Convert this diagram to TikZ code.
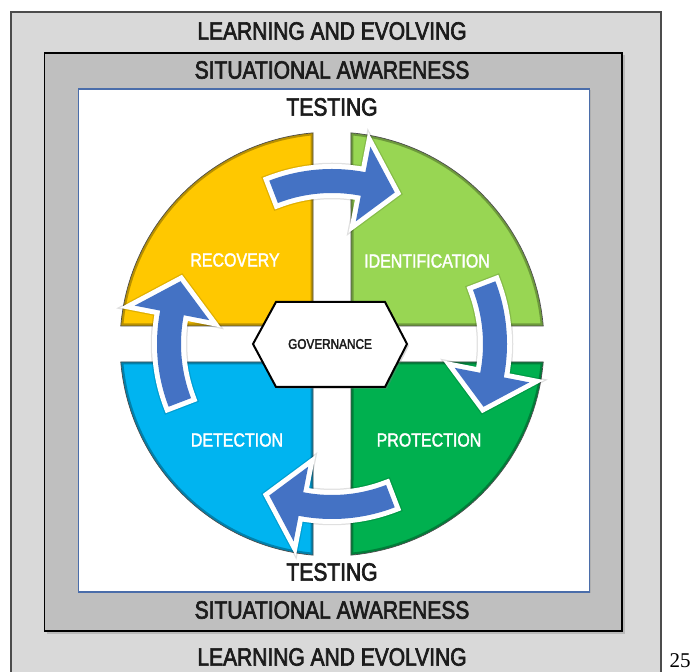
\documentclass[tikz,border=0pt]{standalone}
\usepackage{fontspec}
\usetikzlibrary{shadows}
\newfontfamily\din[FakeStretch=0.84,FakeBold=2.6]{Liberation Sans}
\newfontfamily\dinl[FakeStretch=0.84,FakeBold=1.8]{Liberation Sans}
\newfontfamily\timesf{Liberation Serif}
\definecolor{outergray}{HTML}{D9D9D9}
\definecolor{midgray}{HTML}{BFBFBF}
\definecolor{boxblue}{HTML}{4A6DAA}
\definecolor{qyellow}{HTML}{FFC800}
\definecolor{qlgreen}{HTML}{98D653}
\definecolor{qgreen}{HTML}{00B04F}
\definecolor{qblue}{HTML}{00B4F0}
\definecolor{arrowblue}{HTML}{4472C4}
\definecolor{txt}{HTML}{1C1C1C}
\newcommand\quadrant[2]{% #1 colour, #2 path
  \begin{scope}
    \clip #2;
    \fill[#1] #2;
    \draw[black, opacity=0.28, line width=5pt] #2;
  \end{scope}
  \draw[quadline] #2;
}
\newcommand\cycarrow[1]{% #1 = centre angle
  \path[cyclearrow] ({#1+21}:175) arc[start angle={#1+21}, end angle={#1-11}, radius=175]
    -- ({#1-11}:201) -- ({#1-22.5}:164) -- ({#1-11}:125) -- ({#1-11}:151)
    arc[start angle={#1-11}, end angle={#1+21}, radius=151] -- cycle;
}
\begin{document}
\begin{tikzpicture}[x=1pt,y=1pt,
  title/.style={font=\din\fontsize{25}{30}\selectfont, text=txt, inner sep=0pt},
  qlabel/.style={font=\dinl\fontsize{19}{23}\selectfont, text=white, inner sep=0pt},
  quadline/.style={draw=black!70, line width=0.7pt},
  cyclearrow/.style={fill=arrowblue,
    preaction={draw=black, opacity=0.12, line width=12.5pt, line join=miter, miter limit=8},
    preaction={draw=white, line width=10pt, line join=miter, miter limit=8}},
]
\useasboundingbox (0,0) rectangle (692,671);
\fill[white] (0,0) rectangle (692,671);
% boxes
\draw[fill=outergray, draw=black!70, line width=1.6pt] (11,-10) rectangle (661,659);
\draw[fill=midgray, draw=black, line width=1.4pt,
  drop shadow={shadow xshift=2.5pt, shadow yshift=-2.5pt, opacity=0.35}] (44.5,40) rectangle (622,618);
\draw[fill=white, draw=boxblue, line width=1.2pt,
  drop shadow={shadow xshift=1.5pt, shadow yshift=-1.5pt, opacity=0.25}] (78.5,79) rectangle (589.5,582);
% titles
\node[title] (le1) at (332,640) {LEARNING AND EVOLVING};
\node[title] (sa1) at (332,601) {SITUATIONAL AWARENESS};
\node[title] (te1) at (332,564) {TESTING};
\node[title] (te2) at (332,99) {TESTING};
\node[title] (sa2) at (332,61) {SITUATIONAL AWARENESS};
\node[title] (le2) at (332,14) {LEARNING AND EVOLVING};
% quadrants
\begin{scope}[shift={(332,327)}]
  \quadrant{qyellow}{(-19,18) -- (95.14:212) arc[start angle=95.14, end angle=175.13, radius=212] -- cycle}
  \quadrant{qlgreen}{(19,18) -- (84.86:212) arc[start angle=84.86, end angle=4.87, radius=212] -- cycle}
  \quadrant{qgreen}{(19,-18) -- (-4.87:212) arc[start angle=-4.87, end angle=-84.86, radius=212] -- cycle}
  \quadrant{qblue}{(-19,-18) -- (-95.14:212) arc[start angle=-95.14, end angle=-175.13, radius=212] -- cycle}
  \cycarrow{90}
  \cycarrow{0}
  \cycarrow{-90}
  \cycarrow{180}
\end{scope}
% quadrant labels
\node[qlabel] (rec) at (235,411) {RECOVERY};
\node[qlabel] (ide) at (427,410) {IDENTIFICATION};
\node[qlabel] (det) at (237,231) {DETECTION};
\node[qlabel] (pro) at (429,231) {PROTECTION};
% governance
\draw[fill=white, line width=2pt, line join=miter,
  drop shadow={shadow xshift=2pt, shadow yshift=-2pt, opacity=0.3}]
  (253,327) -- (276,369) -- (385,369) -- (407,327) -- (385,284) -- (276,284) -- cycle;
\node[font=\din\fontsize{14}{17}\selectfont, text=txt, inner sep=0pt] (gov) at (330,327) {GOVERNANCE};
% page number
\node[font=\timesf\fontsize{21}{25}\selectfont, anchor=base, inner sep=0pt] (pg) at (680,4) {25};
\end{tikzpicture}
\end{document}
